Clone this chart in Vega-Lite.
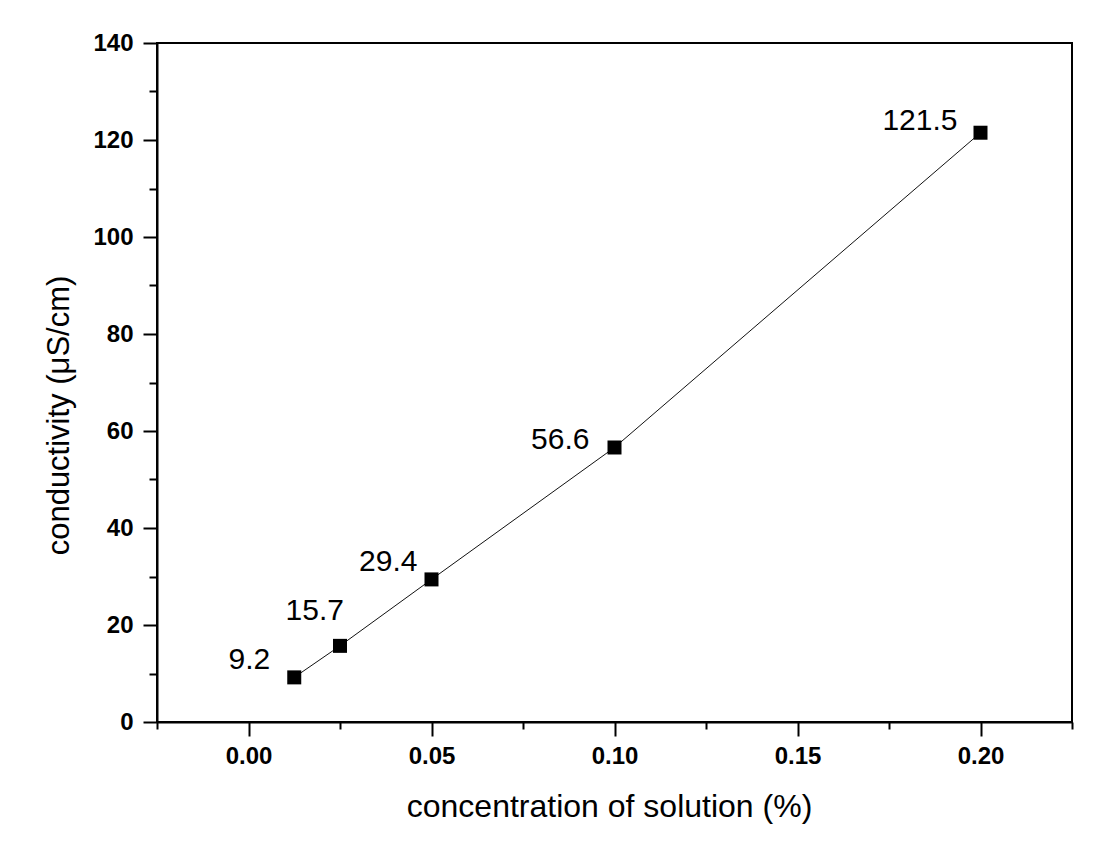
{
  "$schema": "https://vega.github.io/schema/vega-lite/v6.json",
  "width": 915,
  "height": 679,
  "autosize": {"type": "none"},
  "padding": {"left": 157, "top": 43, "right": 35, "bottom": 121},
  "background": "white",
  "config": {"view": {"stroke": "#000", "strokeWidth": 2}, "font": "Liberation Sans"},
  "data": {"values": [
    {"concentration": 0.0125, "conductivity": 9.2},
    {"concentration": 0.025, "conductivity": 15.7},
    {"concentration": 0.05, "conductivity": 29.4},
    {"concentration": 0.1, "conductivity": 56.6},
    {"concentration": 0.2, "conductivity": 121.5}
  ]},
  "encoding": {
    "x": {
      "field": "concentration", "type": "quantitative",
      "scale": {"domain": [-0.025, 0.225], "nice": false, "zero": false},
      "axis": {
        "values": [-0.025, 0, 0.025, 0.05, 0.075, 0.1, 0.125, 0.15, 0.175, 0.2, 0.225],
        "format": ".2f",
        "labelExpr": "abs(round(datum.value*40)%2)==0 ? datum.label : ''",
        "tickSize": {"condition": {"test": "abs(round(datum.value*40)%2)==0", "value": 14}, "value": 7},
        "tickWidth": 2, "tickColor": "#000",
        "domainColor": "#000", "domainWidth": 2,
        "labelFont": "Liberation Sans", "labelFontSize": 24, "labelFontWeight": "bold", "labelColor": "#000",
        "labelPadding": 8, "labelBaseline": "top", "labelFlush": false, "labelOverlap": false,
        "grid": false,
        "title": "concentration of solution (%)",
        "titleFont": "Liberation Sans", "titleFontSize": 32, "titleFontWeight": "normal", "titleColor": "#000",
        "titleX": 452, "titleY": 94, "titleBaseline": "alphabetic"
      }
    },
    "y": {
      "field": "conductivity", "type": "quantitative",
      "scale": {"domain": [0, 140], "nice": false, "zero": true},
      "axis": {
        "values": [0, 10, 20, 30, 40, 50, 60, 70, 80, 90, 100, 110, 120, 130, 140],
        "format": "d",
        "labelExpr": "datum.value % 20 == 0 ? datum.label : ''",
        "tickSize": {"condition": {"test": "datum.value % 20 == 0", "value": 14}, "value": 8},
        "tickWidth": 2, "tickColor": "#000",
        "domainColor": "#000", "domainWidth": 2,
        "labelFont": "Liberation Sans", "labelFontSize": 24, "labelFontWeight": "bold", "labelColor": "#000",
        "labelPadding": 10, "labelFlush": false, "labelOverlap": false,
        "grid": false,
        "title": "conductivity (μS/cm)",
        "titleFont": "Liberation Sans", "titleFontSize": 31, "titleFontWeight": "normal", "titleColor": "#000",
        "titleX": -89, "titleY": 372, "titleBaseline": "alphabetic", "titleAngle": 270
      }
    }
  },
  "layer": [
    {"mark": {"type": "line", "color": "#111", "strokeWidth": 1}},
    {"mark": {"type": "point", "shape": "square", "filled": true, "size": 196, "color": "#000", "opacity": 1}},
    {
      "transform": [{"filter": "datum.conductivity == 9.2"}],
      "mark": {"type": "text", "align": "right", "baseline": "alphabetic", "dx": -24, "dy": -8, "fontSize": 30, "font": "Liberation Sans", "color": "#000"},
      "encoding": {"text": {"field": "conductivity", "type": "quantitative", "format": ".1f"}}
    },
    {
      "transform": [{"filter": "datum.conductivity == 15.7"}],
      "mark": {"type": "text", "align": "right", "baseline": "alphabetic", "dx": 4, "dy": -26, "fontSize": 30, "font": "Liberation Sans", "color": "#000"},
      "encoding": {"text": {"field": "conductivity", "type": "quantitative", "format": ".1f"}}
    },
    {
      "transform": [{"filter": "datum.conductivity == 29.4"}],
      "mark": {"type": "text", "align": "right", "baseline": "alphabetic", "dx": -14, "dy": -8, "fontSize": 30, "font": "Liberation Sans", "color": "#000"},
      "encoding": {"text": {"field": "conductivity", "type": "quantitative", "format": ".1f"}}
    },
    {
      "transform": [{"filter": "datum.conductivity == 56.6"}],
      "mark": {"type": "text", "align": "right", "baseline": "alphabetic", "dx": -25, "dy": 2, "fontSize": 30, "font": "Liberation Sans", "color": "#000"},
      "encoding": {"text": {"field": "conductivity", "type": "quantitative", "format": ".1f"}}
    },
    {
      "transform": [{"filter": "datum.conductivity == 121.5"}],
      "mark": {"type": "text", "align": "right", "baseline": "alphabetic", "dx": -23, "dy": -3, "fontSize": 30, "font": "Liberation Sans", "color": "#000"},
      "encoding": {"text": {"field": "conductivity", "type": "quantitative", "format": ".1f"}}
    }
  ]
}
